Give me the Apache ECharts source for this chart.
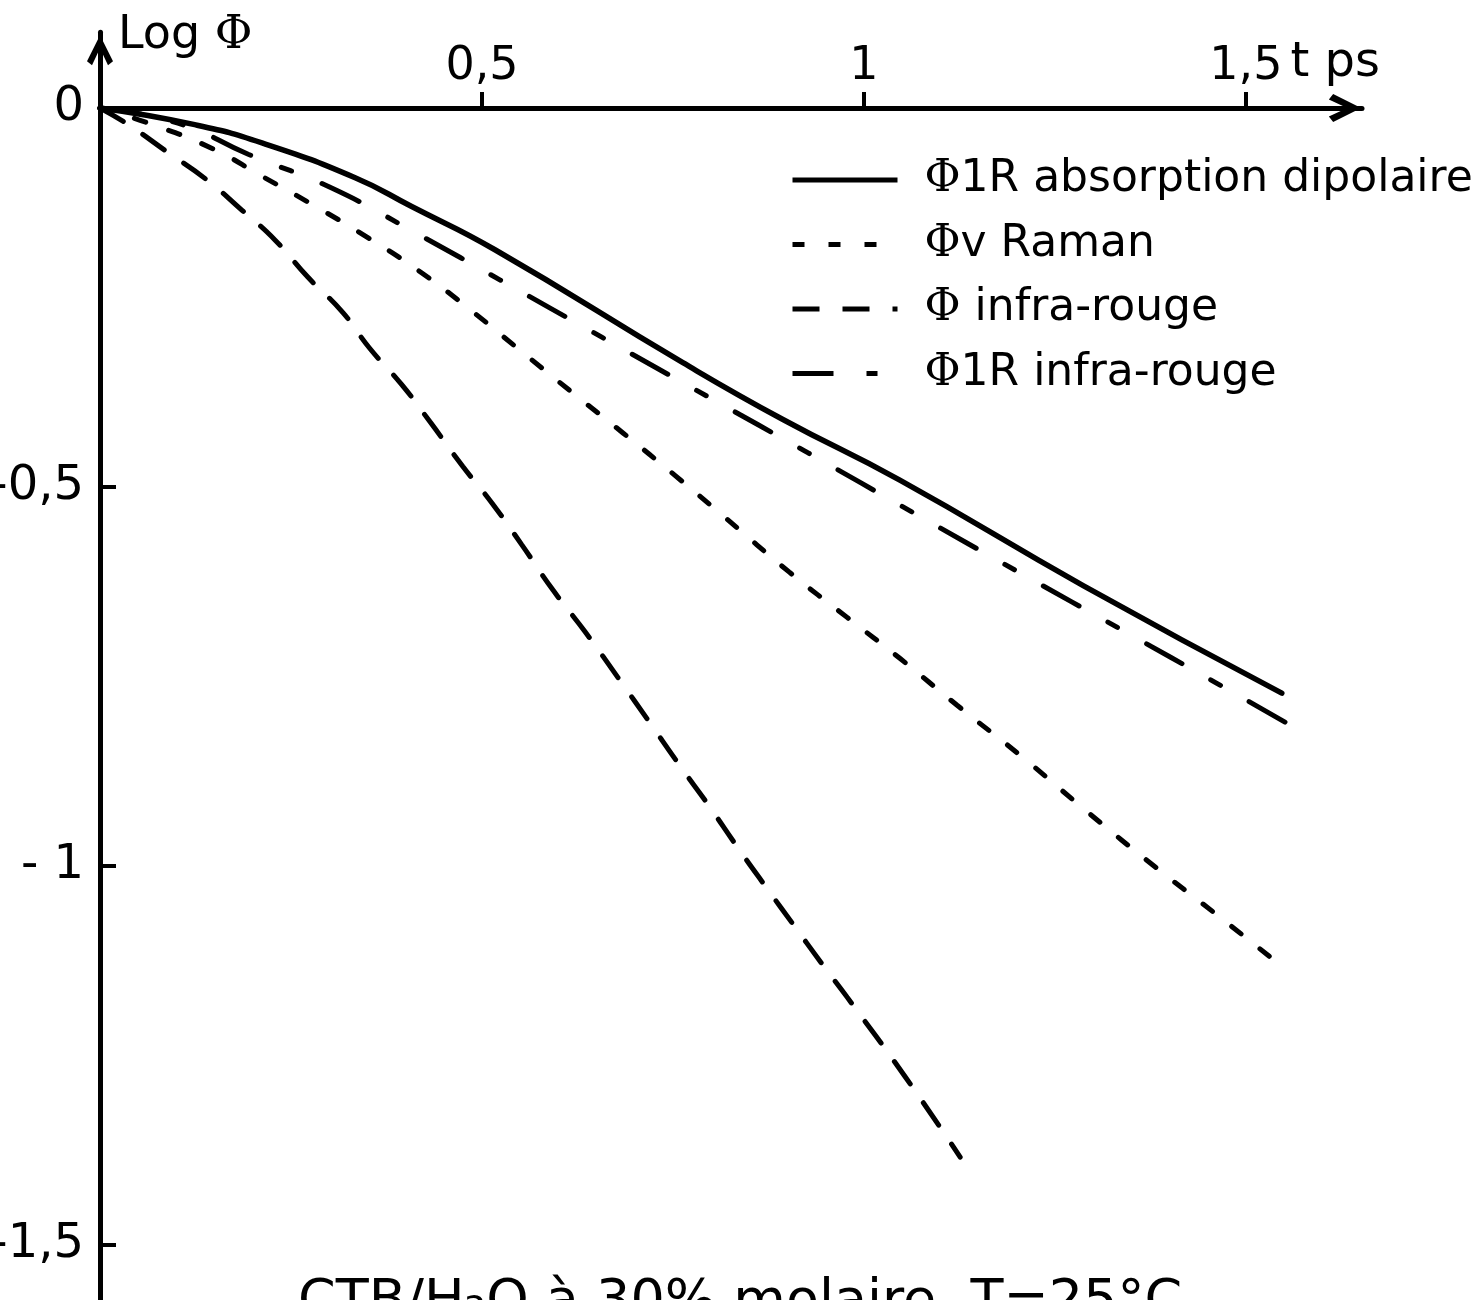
<!DOCTYPE html>
<html><head><meta charset="utf-8">
<script src="https://cdn.jsdelivr.net/npm/echarts@6/dist/echarts.min.js"></script>
<style>html,body{margin:0;padding:0;background:#fff}#c{width:1481px;height:1300px}</style>
</head><body><div id="c"></div>
<script>
// ---- data (t in ps, Log Φ) ----
const xTicks = [0.5, 1, 1.5];
const xTickLabels = ['0,5', '1', '1,5'];
const yTicks = [0, -0.5, -1, -1.5];
const yTickLabels = ['0', '-0,5', '- 1', '-1,5'];
const yTickMarks = [-0.5, -1, -1.5];

const seriesNames = ['Φ1R absorption dipolaire', 'Φv Raman', 'Φ infra-rouge', 'Φ1R infra-rouge'];

const absorptionDipolaire = [[0,0],[0.124,-0.022],[0.212,-0.046],[0.334,-0.092],[0.408,-0.130],[0.517,-0.187],[0.763,-0.336],[0.894,-0.411],[1.047,-0.491],[1.287,-0.630],[1.547,-0.772]];
const vRaman = [[0,0],[0.069,-0.022],[0.148,-0.054],[0.212,-0.090],[0.279,-0.128],[0.349,-0.170],[0.419,-0.216],[0.482,-0.264],[0.543,-0.314],[0.619,-0.376],[0.685,-0.429],[0.753,-0.485],[0.818,-0.540],[0.902,-0.612],[0.978,-0.672],[1.047,-0.726],[1.122,-0.788],[1.207,-0.856],[1.293,-0.929],[1.381,-1.001],[1.459,-1.062],[1.538,-1.125]];
const infraRouge = [[0,0],[0.037,-0.022],[0.088,-0.058],[0.140,-0.095],[0.186,-0.135],[0.229,-0.174],[0.272,-0.223],[0.318,-0.270],[0.353,-0.317],[0.395,-0.365],[0.432,-0.414],[0.475,-0.473],[0.513,-0.521],[0.552,-0.576],[0.593,-0.636],[0.635,-0.691],[0.682,-0.757],[0.717,-0.807],[0.760,-0.869],[0.796,-0.919],[0.835,-0.976],[0.872,-1.028],[0.911,-1.082],[0.948,-1.133],[0.978,-1.173],[1.054,-1.278],[1.126,-1.384]];
const infraRouge1R = [[0,0],[0.102,-0.020],[0.194,-0.061],[0.304,-0.106],[0.419,-0.168],[0.524,-0.227],[0.658,-0.303],[0.796,-0.381],[0.927,-0.455],[1.063,-0.533],[1.202,-0.612],[1.342,-0.691],[1.462,-0.759],[1.577,-0.825]];

const captionText = 'CTB/H₂O à 30% molaire  T=25°C';

// ---- chart ----
const FONT = 'DejaVu Sans';
const chevron = 'path://M13,0 L26,26 L21,30 L13,13 L5,30 L0,26 Z';
const dashTypes = ['solid', [12, 24], [27, 23], [41, 33, 11, 33]];
const widths = [5.5, 5, 5, 5];
const chart = echarts.init(document.getElementById('c'), null, {renderer: 'canvas'});

function line(i, data) {
  return {
    type: 'line', name: seriesNames[i], data: data, showSymbol: false, symbol: 'none',
    smooth: 0.5, animation: false, clip: true,
    itemStyle: {color: '#000'},
    lineStyle: {color: '#000', width: widths[i], type: dashTypes[i], cap: 'round'}
  };
}

chart.setOption({
  backgroundColor: '#fff',
  animation: false,
  grid: {left: 100, top: 32.2, width: 1262, height: 1326.5, outerBoundsMode: 'none', containLabel: false},
  xAxis: {
    type: 'value', min: 0, max: 1.652, position: 'top',
    axisLine: {onZero: true, lineStyle: {color: '#000', width: 5},
      symbol: ['none', chevron], symbolSize: [28, 34], symbolOffset: [0, -17]},
    axisTick: {show: true, customValues: xTicks, length: 16, lineStyle: {color: '#000', width: 4}},
    axisLabel: {customValues: xTicks, formatter: v => xTickLabels[xTicks.indexOf(v)],
      fontFamily: FONT, fontSize: 46, color: '#000', margin: -58},
    splitLine: {show: false},
    name: 't ps', nameLocation: 'end', nameGap: 18,
    nameTextStyle: {fontFamily: FONT, fontSize: 48, color: '#000', align: 'right', verticalAlign: 'bottom', padding: [0, 0, 20, 0]}
  },
  yAxis: {
    type: 'value', min: -1.65, max: 0.1,
    axisLine: {onZero: true, lineStyle: {color: '#000', width: 5},
      symbol: ['none', chevron], symbolSize: [26, 36], symbolOffset: [0, -18]},
    axisTick: {show: true, customValues: yTickMarks, inside: true, length: 16, lineStyle: {color: '#000', width: 4}},
    axisLabel: {customValues: yTicks, formatter: v => yTickLabels[yTicks.indexOf(v)],
      fontFamily: FONT, fontSize: 48, color: '#000', margin: 16},
    splitLine: {show: false},
    name: 'Log {phi|Φ}', nameLocation: 'end', nameGap: 19,
    nameTextStyle: {fontFamily: FONT, fontSize: 46, color: '#000', align: 'left', verticalAlign: 'top', padding: [0, 0, 0, 18],
      rich: {phi: {fontFamily: 'DejaVu Serif', fontSize: 46, color: '#000'}}}
  },
  legend: {
    left: 785, top: 149, orient: 'vertical', itemWidth: 105, itemHeight: 20, itemGap: 12.5,
    data: seriesNames.map((n, i) => ({
      name: n,
      itemStyle: {opacity: 0},
      lineStyle: {color: '#000', width: 5, type: dashTypes[i], cap: 'butt'}
    })),
    formatter: n => '{phi|Φ}' + n.slice(1),
    textStyle: {fontFamily: FONT, fontSize: 44, lineHeight: 52, color: '#000', padding: [0, 0, 0, 22],
      rich: {phi: {fontFamily: 'DejaVu Serif', fontSize: 44, lineHeight: 52, color: '#000'}}}
  },
  graphic: [{
    type: 'text', left: 298, top: 1276, silent: true,
    style: {text: captionText, font: '54px "DejaVu Sans"', fill: '#000'}
  }],
  series: [
    line(0, absorptionDipolaire),
    line(1, vRaman),
    line(2, infraRouge),
    line(3, infraRouge1R)
  ]
});
</script></body></html>
